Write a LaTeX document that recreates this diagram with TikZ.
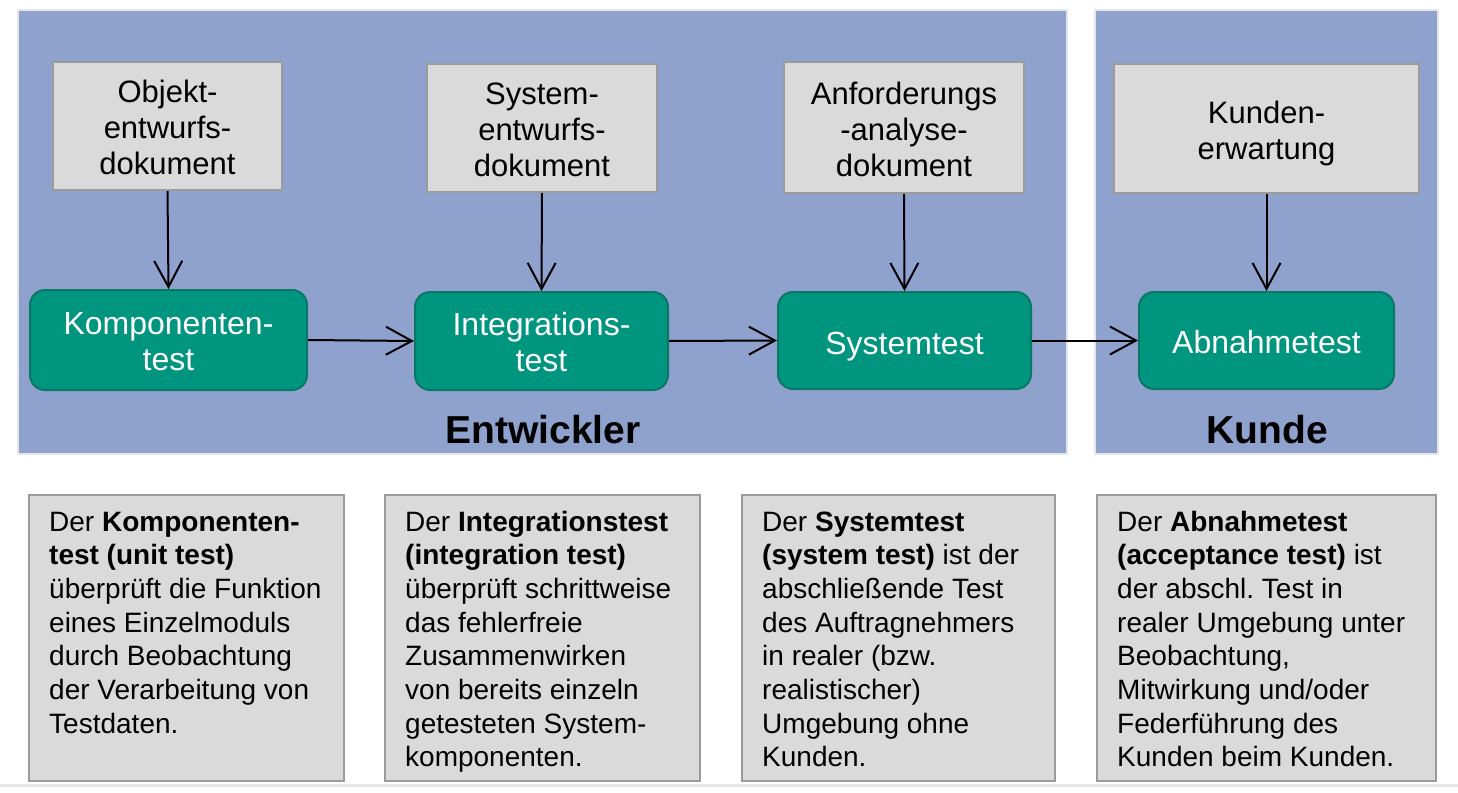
\documentclass[tikz,border=0pt]{standalone}
\usepackage{fontspec}
\setmainfont{Liberation Sans}
\usetikzlibrary{arrows.meta}
\frenchspacing
\definecolor{panelblue}{HTML}{8FA2CD}
\definecolor{paneledge}{HTML}{E4E6EC}
\definecolor{docgray}{HTML}{DADADA}
\definecolor{docedge}{HTML}{9B9B9B}
\definecolor{testgreen}{HTML}{00957F}
\definecolor{testedge}{HTML}{0C7766}
\definecolor{pageline}{HTML}{E6E6E6}
\newcommand{\topst}{\rule{0pt}{33pt}}
\newcommand{\botst}{\rule[-8pt]{0pt}{8pt}}
\tikzset{
  panel/.style={fill=panelblue, draw=paneledge, line width=1.5pt},
  docbox/.style={fill=docgray, draw=docedge, line width=2pt, align=center, inner sep=0pt,
    font=\fontsize{31}{36}\selectfont},
  testbox/.style={fill=testgreen, draw=testedge, line width=2pt, rounded corners=15pt,
    align=center, inner sep=0pt, text=white, font=\fontsize{32}{36}\selectfont},
  infobox/.style={fill=docgray, draw=docedge, line width=2pt},
  infotext/.style={align=left, inner sep=0pt, anchor=base west,
    font=\fontsize{28}{33.7}\selectfont\frenchspacing},
  flow/.style={-{Straight Barb[length=26pt,width=28pt,line width=2pt]}, line width=2pt, black},
  grouplabel/.style={font=\fontsize{39}{44}\selectfont\bfseries, inner sep=0pt}
}
\begin{document}
\begin{tikzpicture}[x=1pt,y=-1pt]
\useasboundingbox (0,0) rectangle (1458,792);
\fill[white] (0,0) rectangle (1458,792);
% panels
\path[panel] (18,10) rectangle (1067,454);
\path[panel] (1095,10) rectangle (1438,454);
\draw[pageline, line width=3pt] (0,785) -- (1458,785);
% document boxes
\node[docbox, minimum width=229pt, minimum height=128pt] (d1) at (167.5,126) {\topst Objekt-\\entwurfs-\\dokument\botst};
\node[docbox, minimum width=230pt, minimum height=128pt] (d2) at (542,128) {\topst System-\\entwurfs-\\dokument\botst};
\node[docbox, minimum width=240pt, minimum height=131pt] (d3) at (904,127.5) {\topst Anforderungs\\-analyse-\\dokument\botst};
\node[docbox, minimum width=305pt, minimum height=129pt] (d4) at (1266.5,128.5) {\topst Kunden-\\erwartung\botst};
% test boxes
\node[testbox, minimum width=277pt, minimum height=100pt] (t1) at (168.5,340) {\topst Komponenten-\\test\botst};
\node[testbox, minimum width=253pt, minimum height=98pt] (t2) at (541.5,341) {\topst Integrations-\\test\botst};
\node[testbox, minimum width=253pt, minimum height=97pt] (t3) at (904.5,340.5) {\rule[-8pt]{0pt}{44pt}Systemtest};
\node[testbox, minimum width=255pt, minimum height=97pt] (t4) at (1266.5,340.5) {\rule[-8pt]{0pt}{42pt}Abnahmetest};
% arrows
\draw[flow] (d1.south) -- (t1.north);
\draw[flow] (d2.south) -- (t2.north);
\draw[flow] (d3.south) -- (t3.north);
\draw[flow] (d4.south) -- (t4.north);
\draw[flow] (t1.east) -- (t2.west);
\draw[flow] (t2.east) -- (t3.west);
\draw[flow] (t3.east) -- (t4.west);
% group labels
\node[grouplabel] (g1) at (543,430) {Entwickler};
\node[grouplabel] (g2) at (1267,430) {Kunde};
% info boxes
\draw[infobox] (29,495) rectangle (344,781);
\draw[infobox] (385,495) rectangle (700,781);
\draw[infobox] (742,495) rectangle (1055,781);
\draw[infobox] (1097,495) rectangle (1436,781);
\node[infotext] (i1) at (49,733.2) {Der \textbf{Komponenten-}\\\textbf{test (unit test)}\\überprüft die Funktion\\eines Einzelmoduls\\durch Beobachtung\\der Verarbeitung von\\Testdaten.};
\node[infotext] (i2) at (405,766.9) {Der \textbf{Integrationstest}\\\textbf{(integration test)}\\überprüft schrittweise\\das fehlerfreie\\Zusammenwirken\\von bereits einzeln\\getesteten System-\\komponenten.};
\node[infotext] (i3) at (762,766.9) {Der \textbf{Systemtest}\\\textbf{(system test)} ist der\\abschließende Test\\des Auftragnehmers\\in realer (bzw.\\realistischer)\\Umgebung ohne\\Kunden.};
\node[infotext] (i4) at (1117,766.9) {Der \textbf{Abnahmetest}\\\textbf{(acceptance test)} ist\\der abschl. Test in\\realer Umgebung unter\\Beobachtung,\\Mitwirkung und/oder\\Federführung des\\Kunden beim Kunden.};
\end{tikzpicture}
\end{document}
